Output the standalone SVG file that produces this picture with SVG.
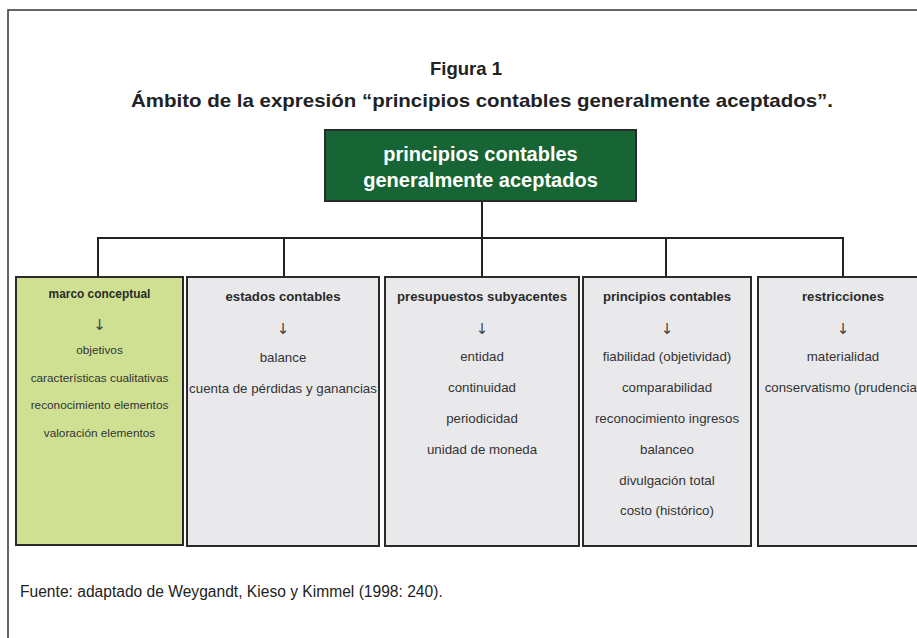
<svg xmlns="http://www.w3.org/2000/svg" width="917" height="638" viewBox="0 0 917 638">
<style>
.frame{fill:none;stroke:#333;stroke-width:1.5}
.conn{fill:none;stroke:#222;stroke-width:2}
.box{stroke:#2a2a2a;stroke-width:2}
.grey{fill:#e9e9eb}
.lime{fill:#cfe093}
.title{font-family:"Liberation Sans",Arial,sans-serif;font-weight:bold;fill:#222;text-anchor:middle}
.hd{font-family:"Liberation Sans",Arial,sans-serif;font-weight:bold;font-size:13.2px;fill:#2a2a2a;text-anchor:middle}
.it{font-family:"Liberation Sans",Arial,sans-serif;font-size:13.3px;fill:#333;text-anchor:middle}
.hd1{font-family:"Liberation Sans",Arial,sans-serif;font-weight:bold;font-size:11.9px;fill:#2a2a2a;text-anchor:middle}
.it1{font-family:"Liberation Sans",Arial,sans-serif;font-size:11.8px;fill:#333;text-anchor:middle}
.arr{font-family:"DejaVu Sans",sans-serif;font-size:15px;fill:#444;text-anchor:middle}
</style>
<rect width="917" height="638" fill="#fff"/>
<path class="frame" d="M8,640 V10 H920"/>
<text class="title" x="466" y="75" font-size="18.5">Figura 1</text>
<text class="title" x="482" y="107" font-size="18.5" textLength="702" lengthAdjust="spacingAndGlyphs">Ámbito de la expresión “principios contables generalmente aceptados”.</text>

<g id="connectors">
<path class="conn" d="M482,201 V277 M98,277 V238 H843 V277 M284,238 V277 M666,238 V277"/>
</g>

<g id="root">
<rect x="325" y="130" width="311" height="71" fill="#176535" stroke="#2a2a2a" stroke-width="2"/>
<text x="480.5" y="161" font-family="'Liberation Sans',Arial,sans-serif" font-weight="bold" font-size="20px" fill="#fff" text-anchor="middle">principios contables</text>
<text x="480.5" y="187" font-family="'Liberation Sans',Arial,sans-serif" font-weight="bold" font-size="20px" fill="#fff" text-anchor="middle">generalmente aceptados</text>
</g>

<g id="marco">
<rect class="box lime" x="16" y="277" width="167" height="268"/>
<text class="hd1" x="99.5" y="298">marco conceptual</text>
<text class="arr" x="99.5" y="330">↓</text>
<text class="it1" x="99.5" y="354">objetivos</text>
<text class="it1" x="99.5" y="381.5">características cualitativas</text>
<text class="it1" x="99.5" y="409">reconocimiento elementos</text>
<text class="it1" x="99.5" y="436.5">valoración elementos</text>
</g>

<g id="estados">
<rect class="box grey" x="187" y="277" width="192" height="269"/>
<text class="hd" x="283" y="300.5">estados contables</text>
<text class="arr" x="283" y="334">↓</text>
<text class="it" x="283" y="362">balance</text>
<text class="it" x="283" y="393">cuenta de pérdidas y ganancias</text>
</g>

<g id="presupuestos">
<rect class="box grey" x="385" y="277" width="194" height="269"/>
<text class="hd" x="482" y="300.5">presupuestos subyacentes</text>
<text class="arr" x="482" y="334">↓</text>
<text class="it" x="482" y="361">entidad</text>
<text class="it" x="482" y="392">continuidad</text>
<text class="it" x="482" y="423">periodicidad</text>
<text class="it" x="482" y="454">unidad de moneda</text>
</g>

<g id="principios">
<rect class="box grey" x="583" y="277" width="168" height="269"/>
<text class="hd" x="667" y="300.5">principios contables</text>
<text class="arr" x="667" y="334">↓</text>
<text class="it" x="667" y="361">fiabilidad (objetividad)</text>
<text class="it" x="667" y="392">comparabilidad</text>
<text class="it" x="667" y="423">reconocimiento ingresos</text>
<text class="it" x="667" y="454">balanceo</text>
<text class="it" x="667" y="484.5">divulgación total</text>
<text class="it" x="667" y="515">costo (histórico)</text>
</g>

<g id="restricciones">
<rect class="box grey" x="758" y="277" width="170" height="269"/>
<text class="hd" x="843" y="300.5">restricciones</text>
<text class="arr" x="843" y="334">↓</text>
<text class="it" x="843" y="361">materialidad</text>
<text class="it" x="843" y="392">conservatismo (prudencia)</text>
</g>

<text x="20" y="597" font-family="'Liberation Sans',Arial,sans-serif" font-size="15.6px" fill="#222">Fuente: adaptado de Weygandt, Kieso y Kimmel (1998: 240).</text>
</svg>
